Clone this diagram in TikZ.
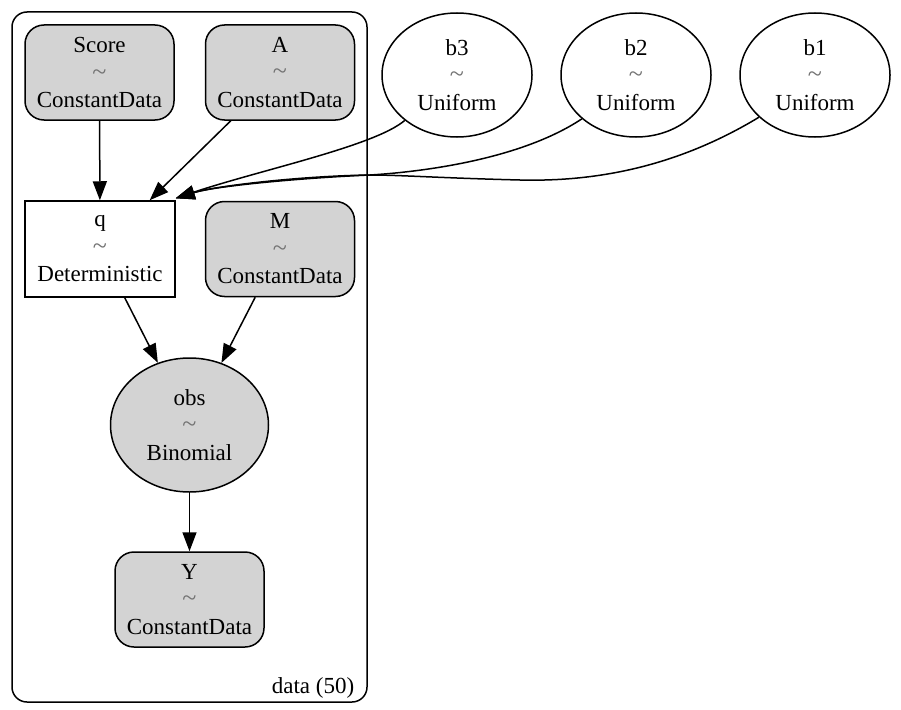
\documentclass[tikz,border=0pt]{standalone}
\usepackage{fontspec}
\setmainfont{Liberation Serif}
\usetikzlibrary{arrows.meta,shapes.geometric}
\definecolor{nodegray}{RGB}{211,211,211}
\begin{document}
\begin{tikzpicture}[x=1pt,y=-1pt,
  every node/.style={font=\fontsize{23}{27.5}\selectfont, align=center, line width=1.5pt, inner sep=0pt},
  datbox/.style={draw, fill=nodegray, rounded corners=19pt, minimum width=149pt, minimum height=95pt},
  detbox/.style={draw, fill=white, minimum width=150pt, minimum height=96pt},
  obsell/.style={draw, fill=nodegray, ellipse, minimum width=158pt, minimum height=134pt},
  freeell/.style={draw, fill=white, ellipse, minimum width=150pt, minimum height=124pt},
  edge/.style={line width=1.5pt, -{Triangle[length=19pt,width=14pt]}},
  plate/.style={draw, line width=1.5pt, rounded corners=15pt}
]
\newcommand{\tl}{{\color{black!55}\fontsize{26}{27.5}\selectfont\textasciitilde}}
\useasboundingbox (0,0) rectangle (901,709);
\draw[plate] (12,12) rectangle (367,702);
\node[anchor=base east] (platelbl) at (355,693) {data (50)};

\node[datbox] (score) at (99.5,72.5) {Score\\\tl\\ConstantData};
\node[datbox] (A) at (280,72.5) {A\\\tl\\ConstantData};
\node[detbox] (q) at (100,249) {q\\\tl\\Deterministic};
\node[datbox] (M) at (280,249) {M\\\tl\\ConstantData};
\node[obsell] (obs) at (189.5,425) {obs\\\tl\\Binomial};
\node[datbox] (Y) at (189.5,599.5) {Y\\\tl\\ConstantData};
\node[freeell] (b3) at (457,75) {b3\\\tl\\Uniform};
\node[freeell] (b2) at (636,75) {b2\\\tl\\Uniform};
\node[freeell] (b1) at (815,75) {b1\\\tl\\Uniform};

\draw[edge] (score) -- (q);
\draw[edge] (A) -- (q);
\draw[edge] (q) -- (obs);
\draw[edge] (M) -- (obs);
\draw[edge] (obs) -- (Y);
\draw[edge] (b3.221) .. controls (375,146) and (260,170) .. ([yshift=2pt]q.north east);
\draw[edge] (b2.219) .. controls (520,160) and (420,172) .. (370,175) .. controls (300,178) and (215,186) .. ([yshift=2pt]q.north east);
\draw[edge] (b1.217) .. controls (680,165) and (600,182) .. (520,180) .. controls (440,178) and (400,175) .. (370,175) .. controls (300,176) and (215,186) .. ([yshift=2pt]q.north east);
\end{tikzpicture}
\end{document}
